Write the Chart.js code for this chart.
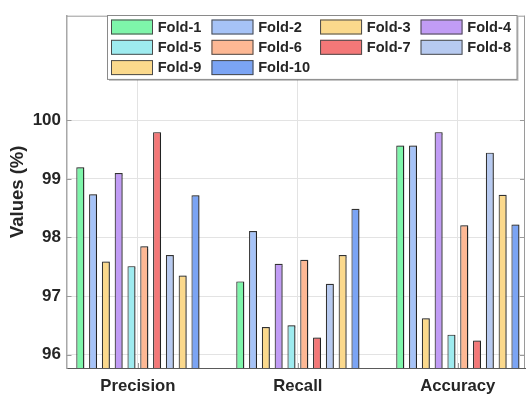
<!DOCTYPE html>
<html>
<head>
<meta charset="utf-8">
<script src="https://cdn.jsdelivr.net/npm/chart.js@4"></script>
<style>
  body { margin: 0; background: #fff; }
  #wrap { width: 526px; height: 401px; }
</style>
</head>
<body>
<div id="wrap"><canvas id="barChart" width="526" height="401"></canvas></div>
<script>
var metrics = ['Precision', 'Recall', 'Accuracy'];
var folds = ['Fold-1', 'Fold-2', 'Fold-3', 'Fold-4', 'Fold-5', 'Fold-6', 'Fold-7', 'Fold-8', 'Fold-9', 'Fold-10'];
var precision = [99.20, 98.74, 97.59, 99.10, 97.51, 97.85, 99.80, 97.70, 97.35, 98.72];
var recall = [97.25, 98.11, 96.47, 97.55, 96.50, 97.62, 96.29, 97.21, 97.70, 98.49];
var accuracy = [99.57, 99.57, 96.62, 99.80, 96.34, 98.21, 96.24, 99.45, 98.73, 98.22];
var yTicks = [96, 97, 98, 99, 100];
var foldColors = ['#7ef5aa', '#a6c3f7', '#fbd98c', '#c19cf5', '#9eebef', '#fdb894', '#f47878', '#b7caf0', '#fbd98c', '#7ba4f4'];

var byMetric = [precision, recall, accuracy];
var FONT = '"Liberation Sans", Arial, sans-serif';
var TEXT = '#262626';

var datasets = folds.map(function (name, i) {
    return {
        label: name,
        data: byMetric.map(function (vals, j) { return { x: j + 1, y: vals[i] }; }),
        backgroundColor: foldColors[i],
        borderColor: '#333333',
        borderWidth: 1.2,
        borderSkipped: false,
        categoryPercentage: 0.8,
        barPercentage: 0.625
    };
});

// shadow under the bars, like the original figure
var shadowPlugin = {
    id: 'barShadow',
    beforeDatasetsDraw: function (chart) {
        var c = chart.ctx;
        c.save();
        c.shadowColor = 'rgba(0,0,0,0.35)';
        c.shadowOffsetX = 1.5;
        c.shadowOffsetY = 0;
        c.shadowBlur = 1;
    },
    afterDatasetsDraw: function (chart) {
        chart.ctx.restore();
    }
};

// box, inside ticks and the 4-column legend
var framePlugin = {
    id: 'frame',
    afterDraw: function (chart) {
        var c = chart.ctx;
        var a = chart.chartArea;
        var xs = chart.scales.x, ys = chart.scales.y;
        c.save();
        c.strokeStyle = '#9a9a9a';
        c.lineWidth = 1;
        c.beginPath();
        c.moveTo(a.left, a.top + 0.5); c.lineTo(a.right, a.top + 0.5);
        c.moveTo(a.right - 0.5, a.top); c.lineTo(a.right - 0.5, a.bottom);
        yTicks.forEach(function (v) {
            var py = Math.round(ys.getPixelForValue(v)) + 0.5;
            c.moveTo(a.left, py); c.lineTo(a.left + 5, py);
            c.moveTo(a.right, py); c.lineTo(a.right - 5, py);
        });
        metrics.forEach(function (m, j) {
            var px = Math.round(xs.getPixelForValue(j + 1)) + 0.5;
            c.moveTo(px, a.bottom); c.lineTo(px, a.bottom - 5);
            c.moveTo(px, a.top); c.lineTo(px, a.top + 5);
        });
        c.stroke();

        // legend
        var cols = 4, sw = 42, sh = 15, gap = 4.7, colSpace = 10, rowH = 20.3;
        var bx = 107.5, by = 15.5, x0 = 111;
        c.font = 'bold 14.6px ' + FONT;
        var colX = [], x = x0, rows = Math.ceil(folds.length / cols);
        for (var k = 0; k < cols; k++) {
            colX.push(x);
            var w = 0;
            for (var r = 0; r < rows; r++) {
                var idx = r * cols + k;
                if (idx < folds.length) w = Math.max(w, c.measureText(folds[idx]).width);
            }
            x += sw + gap + w + colSpace;
        }
        var bw = x - colSpace + 6 - bx, bh = rows * rowH + 3;
        c.shadowColor = 'rgba(0,0,0,0.25)';
        c.shadowOffsetX = 1.5;
        c.shadowOffsetY = 1.5;
        c.fillStyle = '#fff';
        c.fillRect(bx, by, bw, bh);
        c.shadowColor = 'transparent';
        c.strokeStyle = '#8a8a8a';
        c.strokeRect(bx, by, bw, bh);
        c.textBaseline = 'middle';
        c.textAlign = 'left';
        folds.forEach(function (name, i) {
            var col = i % cols, row = Math.floor(i / cols);
            var cy = by + 11.5 + row * rowH;
            c.fillStyle = foldColors[i];
            c.fillRect(colX[col], cy - sh / 2, sw, sh);
            c.strokeStyle = '#4a4a4a';
            c.strokeRect(colX[col] + 0.5, cy - sh / 2 + 0.5, sw - 1, sh - 1);
            c.fillStyle = TEXT;
            c.fillText(name, colX[col] + sw + gap, cy + 0.5);
        });
        c.restore();
    }
};

var ctx = document.getElementById('barChart').getContext('2d');

var myChart = new Chart(ctx, {
    type: 'bar',
    data: { datasets: datasets },
    plugins: [shadowPlugin, framePlugin],
    options: {
        responsive: false,
        animation: false,
        layout: { padding: { left: 0, right: 1, top: 4.5, bottom: 0 } },
        plugins: {
            legend: { display: false },
            tooltip: { enabled: false }
        },
        scales: {
            x: {
                type: 'linear',
                min: 0.554,
                max: 3.42,
                offset: false,
                afterBuildTicks: function (scale) {
                    scale.ticks = metrics.map(function (m, j) { return { value: j + 1 }; });
                },
                afterFit: function (scale) { scale.height = 33; },
                ticks: {
                    padding: 8,
                    color: TEXT,
                    font: { family: FONT, size: 16.7, weight: 'bold' },
                    callback: function (v) { return metrics[v - 1]; }
                },
                grid: { color: '#e3e3e3', drawTicks: false, offset: false },
                border: { color: '#5a5a5a', width: 1 }
            },
            y: {
                min: 95.77,
                max: 101.79,
                afterBuildTicks: function (scale) {
                    scale.ticks = yTicks.map(function (v) { return { value: v }; });
                },
                afterFit: function (scale) { scale.width = 66.5; },
                ticks: {
                    padding: 5.5,
                    color: TEXT,
                    font: { family: FONT, size: 17, weight: 'bold' }
                },
                grid: { color: '#e3e3e3', drawTicks: false },
                border: { color: '#a8a8a8', width: 1.5 },
                title: {
                    display: true,
                    text: 'Values (%)',
                    color: TEXT,
                    padding: { top: 7, bottom: 0 },
                    font: { family: FONT, size: 18.5, weight: 'bold' }
                }
            }
        }
    }
});
</script>
</body>
</html>
